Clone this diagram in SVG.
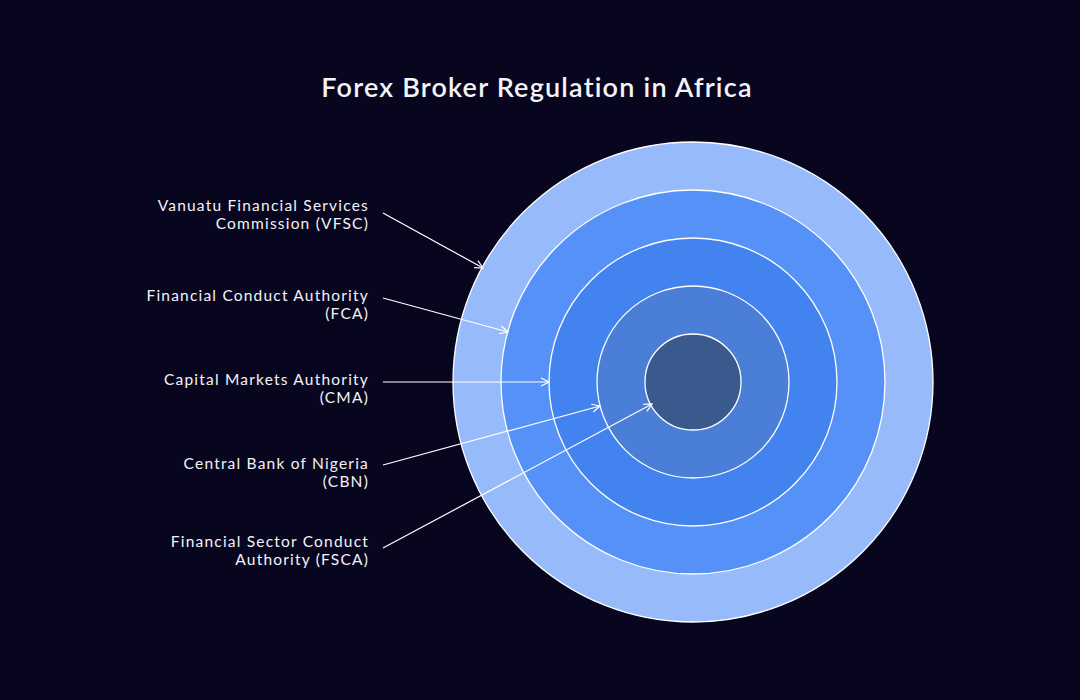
<svg xmlns="http://www.w3.org/2000/svg" width="1080" height="700" viewBox="0 0 1080 700">
<style>
.lbl{font-family:"Lato","Noto Sans",sans-serif;font-size:15.5px;fill:#f2f2f7;text-anchor:end;letter-spacing:1.2px}
.title{font-family:"Lato","Noto Sans",sans-serif;font-size:27px;fill:#f4f4f8;text-anchor:middle;font-weight:600;letter-spacing:1.2px}
.ring{stroke:#ffffff;stroke-width:1.3}
.conn{stroke:#ffffff;stroke-width:1.2;fill:none;marker-end:url(#arr)}
</style>
<defs>
<marker id="arr" viewBox="0 0 10 10" refX="9" refY="5" markerWidth="10" markerHeight="10" markerUnits="userSpaceOnUse" orient="auto">
<path d="M1,1 L9,5 L1,9" fill="none" stroke="#ffffff" stroke-width="1.2"/>
</marker>
</defs>
<rect width="1080" height="700" fill="#08061f"/>
<text class="title" x="537" y="97">Forex Broker Regulation in Africa</text>
<g id="rings">
<circle id="ring-vfsc" class="ring" cx="693" cy="382" r="240" fill="#97bbfa" stroke="none"/>
<circle id="ring-fca" class="ring" cx="693" cy="382" r="192" fill="#5591f6"/>
<circle id="ring-cma" class="ring" cx="693" cy="382" r="144" fill="#4383ef"/>
<circle id="ring-cbn" class="ring" cx="693" cy="382" r="96" fill="#4b7ed6"/>
<circle id="ring-fsca" class="ring" cx="693" cy="382" r="48" fill="#3a5a8e"/>
</g>
<g id="node-vfsc"><text class="lbl" x="369" y="211">Vanuatu Financial Services</text><text class="lbl" x="369" y="229">Commission (VFSC)</text></g>
<g id="node-fca"><text class="lbl" x="369" y="301">Financial Conduct Authority</text><text class="lbl" x="369" y="319">(FCA)</text></g>
<g id="node-cma"><text class="lbl" x="369" y="385">Capital Markets Authority</text><text class="lbl" x="369" y="403">(CMA)</text></g>
<g id="node-cbn"><text class="lbl" x="369" y="469">Central Bank of Nigeria</text><text class="lbl" x="369" y="487">(CBN)</text></g>
<g id="node-fsca"><text class="lbl" x="369" y="547">Financial Sector Conduct</text><text class="lbl" x="369" y="565">Authority (FSCA)</text></g>
<g id="connectors">
<line class="conn" x1="383" y1="213" x2="483" y2="268"/>
<line class="conn" x1="383" y1="298" x2="508" y2="332"/>
<line class="conn" x1="383" y1="382" x2="549" y2="382"/>
<line class="conn" x1="383" y1="465" x2="600" y2="406"/>
<line class="conn" x1="383" y1="548" x2="652" y2="404"/>
</g>
</svg>
